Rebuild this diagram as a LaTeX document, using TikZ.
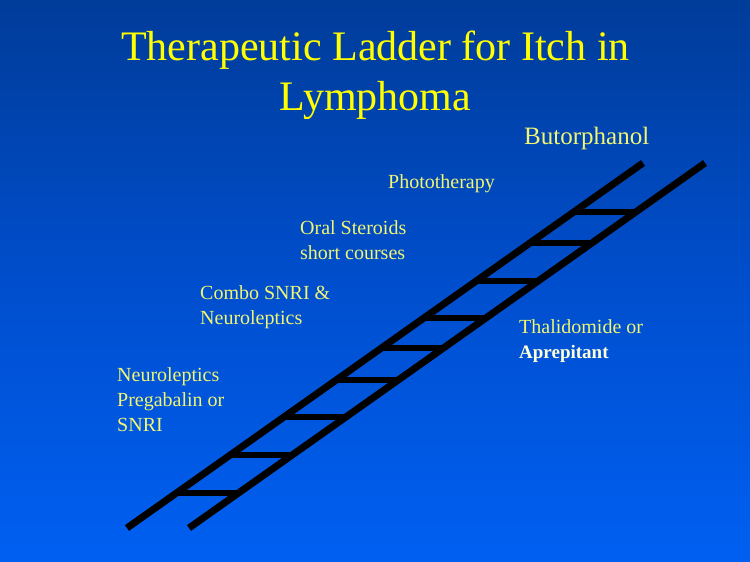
\documentclass[tikz,border=0pt]{standalone}
\usepackage{fontspec}
\setmainfont{Liberation Serif}
\newfontfamily\ttlfont{Liberation Serif}
\usetikzlibrary{calc}
\definecolor{bgtop}{RGB}{0,50,126}
\definecolor{bgmid}{RGB}{0,78,205}
\definecolor{bgbot}{RGB}{0,102,255}
\definecolor{titleyel}{RGB}{255,255,0}
\definecolor{labelyel}{RGB}{240,245,115}
\definecolor{boldwhite}{RGB}{255,255,215}
\pgfdeclareverticalshading{bgshade}{100bp}{color(0bp)=(bgbot); color(16bp)=(bgbot); color(50bp)=(bgmid); color(88bp)=(bgtop); color(100bp)=(bgtop)}
\tikzset{
  titletext/.style={text=titleyel, inner sep=0pt, font=\ttlfont\fontsize{42}{42}\selectfont, anchor=base},
  lbl/.style={text=labelyel, inner sep=0pt, font=\fontsize{20}{25}\selectfont, anchor=base west, align=left},
  rail/.style={line width=7pt, line cap=butt, black},
  rung/.style={line width=6pt, line cap=butt, black}
}
\begin{document}
\begin{tikzpicture}[x=1pt,y=-1pt]
\useasboundingbox (0,0) rectangle (750,562);
\shade[shading=bgshade] (0,0) rectangle (750,562);
% title
\node[titletext] (t1) at (375.5,60) {Therapeutic Ladder for Itch in};
\node[titletext] (t2) at (375.5,110) {Lymphoma};
% ladder
\coordinate (L0) at (127,528);
\coordinate (L1) at (643,163);
\coordinate (R0) at (189,528);
\coordinate (R1) at (705,163);
\draw[rail] (L0) -- (L1);
\draw[rail] (R0) -- (R1);
\foreach \yy [count=\i] in {493,455,417,380,348,318,281,243,212}{
  \pgfmathsetmacro{\tt}{(528-\yy)/365}
  \coordinate (rl\i) at ($(L0)!\tt!(L1)$);
  \coordinate (rr\i) at ($(R0)!\tt!(R1)$);
  \draw[rung] (rl\i) -- (rr\i);
}
% labels (base anchor = baseline of last line)
\node[lbl, font=\fontsize{25}{28}\selectfont] (buto) at (524,144) {Butorphanol};
\node[lbl] (photo) at (388,188) {Phototherapy};
\node[lbl] (oral) at (300,259) {Oral Steroids\\short courses};
\node[lbl] (combo) at (200,324) {Combo SNRI \&\\Neuroleptics};
\node[lbl] (thal) at (519,358) {Thalidomide or\\\textcolor{boldwhite}{\fontsize{19}{25}\selectfont\bfseries Aprepitant}};
\node[lbl] (neuro) at (117,431) {Neuroleptics\\Pregabalin or\\SNRI};
\end{tikzpicture}
\end{document}
